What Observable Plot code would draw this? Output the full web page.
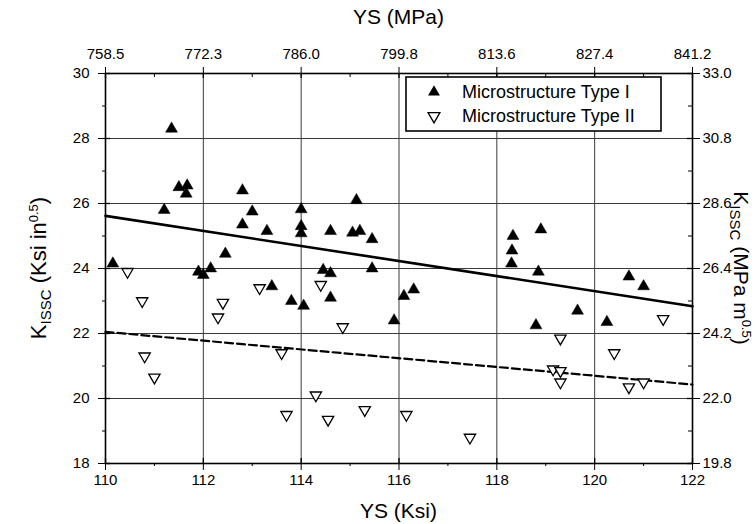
<!DOCTYPE html>
<html><head><meta charset="utf-8">
<script src="https://cdn.jsdelivr.net/npm/d3@7"></script>
<script src="https://cdn.jsdelivr.net/npm/@observablehq/plot@0.6"></script>
<style>body{margin:0;background:#fff}</style>
</head><body><div id="chart"></div>
<script>
// Microstructure Type I (filled up-triangles): YS (Ksi), KISSC (Ksi in^0.5)
const typeI_ys = [110.15,111.35,111.5,111.67,111.65,111.2,111.9,112.0,112.15,112.45,112.8,113.0,112.8,113.3,113.4,113.8,114.0,114.0,114.0,114.05,114.45,114.6,114.6,114.6,115.13,115.05,115.2,115.45,115.45,115.9,116.1,116.3,118.33,118.31,118.3,118.9,118.85,118.8,119.65,120.25,120.7,121.0];
const typeI_k  = [24.15,28.3,26.5,26.55,26.3,25.8,23.9,23.8,24.0,24.45,26.4,25.75,25.35,25.15,23.45,23.0,25.82,25.3,25.08,22.85,23.95,23.85,25.15,23.1,26.1,25.1,25.15,24.9,24.0,22.4,23.15,23.35,25.0,24.55,24.15,25.2,23.9,22.25,22.7,22.35,23.75,23.45];
// Microstructure Type II (open down-triangles)
const typeII_ys = [110.45,110.75,110.8,111.0,112.4,112.3,113.15,113.6,113.7,114.3,114.4,114.85,114.55,115.3,116.15,117.45,119.3,119.15,119.3,119.3,120.4,120.7,121.0,121.4];
const typeII_k  = [23.9,23.0,21.3,20.65,22.95,22.5,23.4,21.4,19.5,20.1,23.5,22.2,19.35,19.65,19.5,18.8,21.85,20.9,20.85,20.5,21.4,20.35,20.5,22.45];
// Fitted trend lines (end values)
const fitYs = [110, 122];
const fitTypeI = [25.62, 22.84];
const fitTypeII = [22.05, 20.43];
// Ticks
const ksiTicks = [110,112,114,116,118,120,122];
const ksiMinor = [111,113,115,117,119,121];
const mpaTickLabels = ["758.5","772.3","786.0","799.8","813.6","827.4","841.2"];
const kTicks = [18,20,22,24,26,28,30];
const kMinor = [19,21,23,25,27,29];
const mpaKTickLabels = ["19.8","22.0","24.2","26.4","28.6","30.8","33.0"];
const seriesNames = ["Microstructure Type I","Microstructure Type II"];

const I = typeI_ys.map((x,i)=>({x, y: typeI_k[i]}));
const II = typeII_ys.map((x,i)=>({x, y: typeII_k[i]}));
const fitI = fitYs.map((x,i)=>({x, y: fitTypeI[i]}));
const fitII = fitYs.map((x,i)=>({x, y: fitTypeII[i]}));

const W=756,H=524,mT=73,mB=61,mL=105,mR=64;
const pw=W-mL-mR, ph=H-mT-mB;
const blank = () => "";

const plot = Plot.plot({
  width:W, height:H, marginTop:mT, marginBottom:mB, marginLeft:mL, marginRight:mR,
  style:{fontFamily:"'Liberation Sans', Arial, sans-serif", fontSize:"15px", color:"black", background:"white"},
  x:{domain:[110,122]}, y:{domain:[18,30]},
  marks:[
    Plot.gridX(ksiTicks.slice(1,-1), {stroke:"#3a3a3a", strokeOpacity:1, strokeWidth:1}),
    Plot.gridY(kTicks.slice(1,-1), {stroke:"#3a3a3a", strokeOpacity:1, strokeWidth:1}),
    // bottom axis
    Plot.axisX(ksiTicks, {anchor:"bottom", tickSize:7, tickPadding:4, label:null, fontSize:15}),
    Plot.axisX(ksiMinor, {anchor:"bottom", tickSize:3, tickFormat:blank, label:null}),
    Plot.tickX(ksiTicks, {x:d=>d, insetTop:ph-5, stroke:"black", strokeWidth:1.3}),
    // top axis
    Plot.axisX(ksiTicks, {anchor:"top", tickSize:7, tickPadding:8, label:null, fontSize:15,
      tickFormat:d=>mpaTickLabels[ksiTicks.indexOf(d)]}),
    Plot.tickX(ksiTicks, {x:d=>d, insetBottom:ph-5, stroke:"black", strokeWidth:1.3}),
    Plot.tickX(ksiMinor, {x:d=>d, insetBottom:ph-4, stroke:"black"}),
    // left axis
    Plot.axisY(kTicks, {anchor:"left", tickSize:7, tickPadding:9, label:null, fontSize:15}),
    Plot.axisY(kMinor, {anchor:"left", tickSize:3, tickFormat:blank, label:null}),
    Plot.tickY(kTicks, {y:d=>d, insetRight:pw-5, stroke:"black", strokeWidth:1.3}),
    // right axis
    Plot.axisY(kTicks, {anchor:"right", tickSize:7, tickPadding:3, label:null, fontSize:15,
      tickFormat:d=>mpaKTickLabels[kTicks.indexOf(d)]}),
    Plot.tickY(kTicks, {y:d=>d, insetLeft:pw-5, stroke:"black", strokeWidth:1.3}),
    Plot.tickY(kMinor, {y:d=>d, insetLeft:pw-4, stroke:"black"}),
    // fits
    Plot.line(fitI, {x:"x", y:"y", stroke:"black", strokeWidth:2.6}),
    Plot.line(fitII, {x:"x", y:"y", stroke:"black", strokeWidth:2.2, strokeDasharray:"8,4"}),
    // points
    Plot.dot(I, {x:"x", y:"y", symbol:"triangle", r:4.4, fill:"black", stroke:"black", strokeWidth:0.5}),
    Plot.dot(II, {x:"x", y:"y", symbol:"triangle", rotate:180, r:4.2, fill:"white", stroke:"black", strokeWidth:1.3}),
    Plot.frame({stroke:"black", strokeWidth:1.6})
  ]
});
document.getElementById("chart").appendChild(plot);

const svg = d3.select(plot);
const F = "'Liberation Sans', Arial, sans-serif";
svg.append("text").attr("x", mL+pw/2).attr("y", 24).attr("text-anchor","middle")
  .style("font-family",F).style("font-size","21px").text("YS (MPa)");
svg.append("text").attr("x", mL+pw/2).attr("y", 518).attr("text-anchor","middle")
  .style("font-family",F).style("font-size","21px").text("YS (Ksi)");

function kLabel(t, unit, size, sub){
  t.style("font-family",F).style("font-size",size+"px").attr("text-anchor","middle");
  t.append("tspan").text("K");
  t.append("tspan").attr("dy",sub).style("font-size","15px").text("ISSC");
  t.append("tspan").attr("dy",-sub).text(" (" + unit);
  t.append("tspan").attr("dy",-8).style("font-size","13px").text("0.5");
  t.append("tspan").attr("dy",8).text(")");
}
kLabel(svg.append("text").attr("transform",`translate(46,${mT+ph/2}) rotate(-90)`), "Ksi in", 22, 5);
kLabel(svg.append("text").attr("transform",`translate(734,${mT+ph/2}) rotate(90)`), "MPa m", 21, 4);

// legend
const lg = svg.append("g");
lg.append("rect").attr("x",406).attr("y",77).attr("width",255).attr("height",54)
  .attr("fill","white").attr("stroke","black").attr("stroke-width",1.6);
const tri = d3.symbol(d3.symbolTriangle, Math.PI*4.4*4.4);
lg.append("path").attr("d",tri()).attr("transform","translate(434,92)").attr("fill","black");
lg.append("path").attr("d",tri()).attr("transform","translate(434,116) rotate(180)")
  .attr("fill","white").attr("stroke","black").attr("stroke-width",1.3);
seriesNames.forEach((s,i)=>{
  lg.append("text").attr("x",462).attr("y",98+i*24).attr("text-anchor","start")
    .style("font-family",F).style("font-size","18px").text(s);
});
</script>
</body></html>
